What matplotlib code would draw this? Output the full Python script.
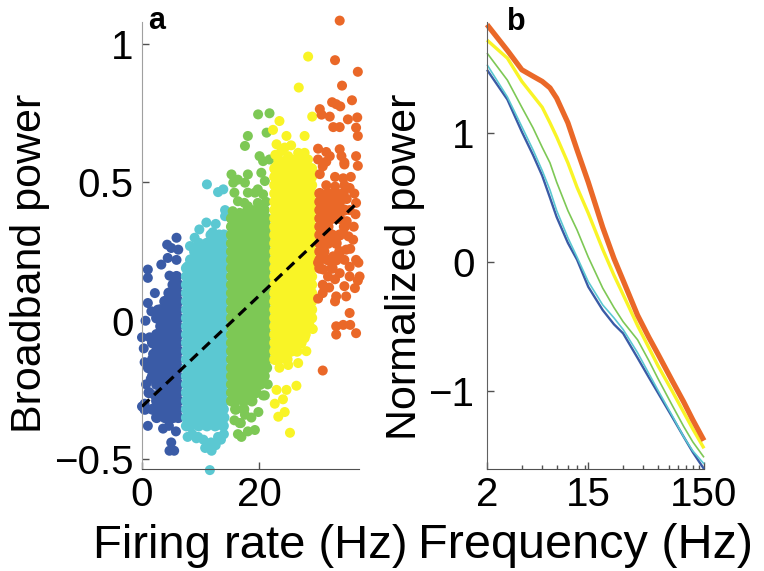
import matplotlib
matplotlib.use("Agg")
import matplotlib.pyplot as plt
from matplotlib.ticker import FixedLocator, NullFormatter

plt.rcParams['font.family'] = ['Liberation Sans', 'DejaVu Sans']

# ---- panel a: firing rate vs broadband power, one colour per rate bin ----
# dense parts are given as rows (y, [x values]), sparse points as (x, y)
blue_rows = [
    (0.16, [5.9]),
    (0.13, [5.3, 6.2]),
    (0.10, [4.6, 6.0]),
    (0.07, [3.9, 5.3, 6.2]),
    (0.04, [3.2, 4.6, 6.0]),
    (0.01, [2.5, 3.9, 5.3, 6.2]),
    (-0.02, [3.2, 4.6, 6.0]),
    (-0.05, [2.5, 3.9, 5.3, 6.2]),
    (-0.08, [1.8, 3.2, 4.6, 6.0]),
    (-0.11, [2.5, 3.9, 5.3, 6.2]),
    (-0.14, [1.8, 3.2, 4.6, 6.0]),
    (-0.17, [1.1, 2.5, 3.9, 5.3, 6.2]),
    (-0.20, [1.8, 3.2, 4.6, 6.0]),
    (-0.23, [2.5, 3.9, 5.3, 6.2]),
    (-0.26, [1.2, 3.2, 4.6, 6.0]),
    (-0.29, [2.5, 3.9, 5.3, 6.2]),
    (-0.32, [0.5, 1.8, 3.2, 4.6, 6.0]),
    (-0.35, [2.5, 3.9, 5.3, 6.2]),
]
blue_pts = [
    (5.9, 0.30), (4.3, 0.275), (5.0, 0.263), (6.2, 0.257), (4.4, 0.227),
    (5.9, 0.22), (3.3, 0.203), (1.0, 0.185), (1.0, 0.155), (4.7, 0.163),
    (2.2, 0.10), (5.0, 0.088), (1.0, 0.064), (2.7, 0.04), (1.6, 0.034),
    (0.6, 0.0), (1.3, -0.06), (0.0, -0.06), (0.3, -0.10), (1.9, -0.12),
    (0.45, -0.15), (2.2, -0.18), (1.5, -0.21), (0.7, -0.23), (2.2, -0.27),
    (0.45, -0.30), (0.0, -0.31), (1.0, -0.38), (3.6, -0.39), (5.8, -0.40),
    (4.6, -0.38), (5.0, -0.44), (4.7, -0.47), (5.5, -0.47),
]

cyan_rows = [
    (0.31, [11.8, 13.2, 14.0]),
    (0.28, [9.7, 11.1, 12.5, 13.9]),
    (0.25, [9.0, 10.4, 11.8, 13.2, 14.0]),
    (0.22, [8.3, 9.7, 11.1, 12.5, 13.9]),
    (0.19, [7.6, 9.0, 10.4, 11.8, 13.2, 14.0]),
    (0.16, [7.6, 8.3, 9.7, 11.1, 12.5, 13.9]),
    (0.13, [7.6, 9.0, 10.4, 11.8, 13.2, 14.0]),
    (0.10, [7.6, 8.3, 9.7, 11.1, 12.5, 13.9]),
    (0.07, [7.6, 9.0, 10.4, 11.8, 13.2, 14.0]),
    (0.04, [7.6, 8.3, 9.7, 11.1, 12.5, 13.9]),
    (0.01, [7.6, 9.0, 10.4, 11.8, 13.2, 14.0]),
    (-0.02, [7.6, 8.3, 9.7, 11.1, 12.5, 13.9]),
    (-0.05, [7.6, 9.0, 10.4, 11.8, 13.2, 14.0]),
    (-0.08, [7.6, 8.3, 9.7, 11.1, 12.5, 13.9]),
    (-0.11, [7.6, 9.0, 10.4, 11.8, 13.2, 14.0]),
    (-0.14, [7.6, 8.3, 9.7, 11.1, 12.5, 13.9]),
    (-0.17, [7.6, 9.0, 10.4, 11.8, 13.2, 14.0]),
    (-0.20, [7.6, 8.3, 9.7, 11.1, 12.5, 13.9]),
    (-0.23, [7.6, 9.0, 10.4, 11.8, 13.2, 14.0]),
    (-0.26, [7.6, 8.3, 9.7, 11.1, 12.5, 13.9]),
    (-0.29, [7.6, 9.0, 10.4, 11.8, 13.2, 14.0]),
    (-0.32, [7.6, 8.3, 9.7, 11.1, 12.5, 13.9]),
    (-0.35, [7.6, 9.0, 10.4, 11.8, 13.2, 14.0]),
    (-0.38, [7.6, 8.3, 9.7, 11.1, 12.5, 13.9]),
]
cyan_pts = [
    (11.1, 0.493), (13.0, 0.465), (13.9, 0.475), (14.2, 0.40), (14.2, 0.378),
    (11.0, 0.355), (12.1, 0.32), (9.0, 0.30), (8.2, 0.27), (7.8, 0.197),
    (9.8, 0.33), (12.6, 0.35),
    (7.8, -0.42), (8.6, -0.41), (9.6, -0.42), (9.3, -0.425), (10.5, -0.43),
    (10.8, -0.46), (11.8, -0.44), (12.6, -0.45), (13.0, -0.42), (13.5, -0.43),
    (14.0, -0.41), (11.9, -0.47), (11.6, -0.54),
]

green_rows = [
    (0.40, [18.1, 19.5, 20.9]),
    (0.37, [15.3, 16.0, 17.4, 18.8, 20.2, 21.3]),
    (0.34, [15.3, 16.7, 18.1, 19.5, 20.9, 21.3]),
    (0.31, [15.3, 16.0, 17.4, 18.8, 20.2, 21.3]),
    (0.28, [15.3, 16.7, 18.1, 19.5, 20.9, 21.3]),
    (0.25, [15.3, 16.0, 17.4, 18.8, 20.2, 21.3]),
    (0.22, [15.3, 16.7, 18.1, 19.5, 20.9, 21.3]),
    (0.19, [15.3, 16.0, 17.4, 18.8, 20.2, 21.3]),
    (0.16, [15.3, 16.7, 18.1, 19.5, 20.9, 21.3]),
    (0.13, [15.3, 16.0, 17.4, 18.8, 20.2, 21.3]),
    (0.10, [15.3, 16.7, 18.1, 19.5, 20.9, 21.3]),
    (0.07, [15.3, 16.0, 17.4, 18.8, 20.2, 21.3]),
    (0.04, [15.3, 16.7, 18.1, 19.5, 20.9, 21.3]),
    (0.01, [15.3, 16.0, 17.4, 18.8, 20.2, 21.3]),
    (-0.02, [15.3, 16.7, 18.1, 19.5, 20.9, 21.3]),
    (-0.05, [15.3, 16.0, 17.4, 18.8, 20.2, 21.3]),
    (-0.08, [15.3, 16.7, 18.1, 19.5, 20.9, 21.3]),
    (-0.11, [15.3, 16.0, 17.4, 18.8, 20.2, 21.3]),
    (-0.14, [15.3, 16.7, 18.1, 19.5, 20.9, 21.3]),
    (-0.17, [15.3, 16.0, 17.4, 18.8, 20.2, 21.3]),
    (-0.20, [15.3, 16.7, 18.1, 19.5, 20.9]),
    (-0.23, [15.3, 16.0, 17.4, 18.8, 20.2]),
    (-0.26, [15.3, 16.7, 18.1, 19.5]),
    (-0.29, [15.3, 16.0, 17.4, 18.8]),
    (-0.32, [16.0, 17.4]),
]
green_pts = [
    (19.85, 0.746), (21.8, 0.75), (18.1, 0.668), (21.3, 0.68), (17.6, 0.632),
    (20.1, 0.595), (21.8, 0.583), (20.7, 0.577), (15.3, 0.529), (16.4, 0.51),
    (18.1, 0.529), (15.6, 0.499), (17.6, 0.499), (20.4, 0.535), (21.0, 0.505),
    (19.8, 0.475), (15.8, 0.463), (18.1, 0.463), (16.4, 0.432), (17.5, 0.426),
    (15.5, 0.396), (16.7, 0.39), (18.4, 0.402), (19.3, 0.463), (20.7, 0.457),
    (18.1, 0.414), (19.8, 0.426), (21.2, 0.43),
    (21.5, -0.23), (21.0, -0.27), (20.7, -0.27), (19.9, -0.33), (18.7, -0.35),
    (15.8, -0.36), (17.6, -0.34), (16.9, -0.37), (16.7, -0.37), (19.3, -0.395),
    (18.1, -0.40), (16.4, -0.41), (17.0, -0.42),
]

yellow_rows = [
    (0.58, [23.4, 24.8, 26.2, 27.6]),
    (0.55, [22.7, 24.1, 25.5, 26.9, 28.3, 29.0]),
    (0.52, [22.7, 23.4, 24.8, 26.2, 27.6, 29.0]),
    (0.49, [22.7, 24.1, 25.5, 26.9, 28.3, 29.0]),
    (0.46, [22.7, 23.4, 24.8, 26.2, 27.6, 29.0]),
    (0.43, [22.7, 24.1, 25.5, 26.9, 28.3, 29.0]),
    (0.40, [22.7, 23.4, 24.8, 26.2, 27.6, 29.0]),
    (0.37, [22.7, 24.1, 25.5, 26.9, 28.3, 29.0]),
    (0.34, [22.7, 23.4, 24.8, 26.2, 27.6, 29.0]),
    (0.31, [22.7, 24.1, 25.5, 26.9, 28.3, 29.0]),
    (0.28, [22.7, 23.4, 24.8, 26.2, 27.6, 29.0]),
    (0.25, [22.7, 24.1, 25.5, 26.9, 28.3, 29.0]),
    (0.22, [22.7, 23.4, 24.8, 26.2, 27.6, 29.0]),
    (0.19, [22.7, 24.1, 25.5, 26.9, 28.3, 29.0]),
    (0.16, [22.7, 23.4, 24.8, 26.2, 27.6, 29.0]),
    (0.13, [22.7, 24.1, 25.5, 26.9, 28.3, 29.0]),
    (0.10, [22.7, 23.4, 24.8, 26.2, 27.6, 29.0]),
    (0.07, [22.7, 24.1, 25.5, 26.9, 28.3, 29.0]),
    (0.04, [22.7, 23.4, 24.8, 26.2, 27.6, 29.0]),
    (0.01, [22.7, 24.1, 25.5, 26.9, 28.3, 29.0]),
    (-0.02, [22.7, 23.4, 24.8, 26.2, 27.6, 28.6]),
    (-0.05, [22.7, 24.1, 25.5, 26.9, 27.9]),
    (-0.08, [22.7, 23.4, 24.8, 26.2, 27.2]),
    (-0.11, [22.7, 24.1, 25.5, 26.5]),
    (-0.14, [22.7, 23.4, 24.8]),
]
yellow_pts = [
    (28.4, 0.955), (26.8, 0.843), (29.1, 0.738), (23.5, 0.722), (22.4, 0.69),
    (24.7, 0.668), (27.8, 0.668), (23.0, 0.638), (24.4, 0.626), (25.5, 0.634),
    (26.7, 0.607), (27.8, 0.607), (25.0, 0.595), (26.1, 0.583), (27.5, 0.571),
    (28.4, 0.583), (23.0, 0.559), (23.8, 0.613), (22.8, 0.60),
    (29.2, -0.03), (27.8, -0.063), (28.1, -0.11), (26.7, -0.153), (25.0, -0.16),
    (23.5, -0.17), (23.0, -0.25), (24.7, -0.25), (26.4, -0.235), (24.1, -0.284),
    (22.7, -0.30), (24.4, -0.33), (23.3, -0.347), (25.3, -0.405),
]

orange_rows = [
    (0.46, [30.4, 31.8, 33.2, 34.4]),
    (0.43, [30.4, 31.1, 32.5, 33.8]),
    (0.40, [30.4, 31.8, 33.2, 34.6]),
    (0.37, [30.4, 31.1, 32.5, 33.8]),
    (0.34, [30.4, 31.8, 34.6]),
    (0.31, [30.4, 31.1, 32.5, 33.8]),
    (0.28, [30.4, 31.8, 33.2]),
    (0.25, [30.4, 31.1, 33.8]),
    (0.22, [30.4, 31.8, 33.2]),
    (0.19, [30.4, 32.5]),
]
orange_pts = [
    (33.8, 1.085), (33.0, 0.942), (36.9, 0.90), (34.2, 0.85), (35.9, 0.797),
    (32.5, 0.79), (33.2, 0.783), (33.9, 0.775), (30.4, 0.765), (30.7, 0.745),
    (32.1, 0.738), (35.2, 0.728), (36.8, 0.735), (32.7, 0.70), (33.8, 0.70),
    (36.6, 0.698), (36.9, 0.668), (30.1, 0.622), (31.5, 0.61), (32.1, 0.595),
    (33.8, 0.62), (34.1, 0.595), (34.6, 0.572), (36.6, 0.595), (30.1, 0.583),
    (30.9, 0.558), (31.5, 0.575), (34.6, 0.565), (36.9, 0.56), (33.0, 0.52),
    (34.4, 0.515), (35.7, 0.52), (30.4, 0.53), (31.5, 0.49), (33.0, 0.485),
    (34.6, 0.49), (35.5, 0.48), (36.3, 0.46), (35.0, 0.44), (36.6, 0.426),
    (35.5, 0.40), (36.5, 0.385), (35.0, 0.36), (36.2, 0.34), (34.4, 0.317),
    (36.1, 0.293), (35.3, 0.305), (34.9, 0.257), (32.7, 0.233), (36.6, 0.22),
    (35.6, 0.26), (37.0, 0.21), (35.5, 0.195), (34.6, 0.22), (37.2, 0.16),
    (35.5, 0.16), (33.8, 0.172), (30.1, 0.21), (31.0, 0.185), (31.8, 0.16),
    (33.0, 0.15), (36.9, 0.145), (30.9, 0.13), (32.0, 0.12), (34.6, 0.125),
    (30.9, 0.10), (33.2, 0.088), (34.9, 0.088), (36.4, 0.118), (30.1, 0.08),
    (33.0, 0.07), (35.5, 0.028), (33.2, -0.02), (34.4, -0.015), (35.6, -0.015),
    (36.6, -0.045), (33.2, -0.05), (30.9, -0.18),
]

fit_x = [0, 37]
fit_y = [-0.31, 0.43]

# ---- panel b: normalized spectra per rate bin ----
freq = [2, 3, 4, 5, 6, 7, 8, 10, 12, 15, 20, 25, 30, 40, 50, 60, 80, 100, 120, 150]
spec_orange = [1.84, 1.64, 1.49, 1.44, 1.40, 1.35, 1.27, 1.08, 0.87, 0.62, 0.27, 0.03,
               -0.14, -0.41, -0.58, -0.71, -0.92, -1.08, -1.22, -1.38]
spec_yellow = [1.72, 1.58, 1.40, 1.29, 1.20, 1.08, 0.97, 0.77, 0.58, 0.38, 0.10, -0.10,
               -0.25, -0.49, -0.66, -0.80, -1.00, -1.16, -1.29, -1.44]
spec_green = [1.62, 1.41, 1.20, 1.04, 0.89, 0.77, 0.62, 0.40, 0.25, 0.04, -0.20, -0.35,
              -0.46, -0.60, -0.76, -0.90, -1.11, -1.27, -1.39, -1.51]
spec_cyan = [1.53, 1.28, 1.05, 0.87, 0.71, 0.56, 0.40, 0.19, 0.04, -0.15, -0.33, -0.43,
             -0.52, -0.70, -0.86, -0.99, -1.19, -1.35, -1.46, -1.56]
spec_blue = [1.49, 1.26, 1.01, 0.83, 0.67, 0.50, 0.35, 0.15, 0.02, -0.19, -0.37, -0.48,
             -0.55, -0.74, -0.89, -1.01, -1.20, -1.35, -1.47, -1.60]

col_blue = '#3a5ba6'
col_cyan = '#5bc8d2'
col_green = '#7dc855'
col_yellow = '#f9f426'
col_orange = '#ea6828'


def expand(rows):
    xs, ys = [], []
    for y, row in rows:
        xs += row
        ys += [y] * len(row)
    return xs, ys


fig = plt.figure(figsize=(7.64, 5.71), dpi=100)
ax1 = fig.add_axes([142 / 764, 1 - 469 / 571, 217 / 764, 447 / 571])
ax2 = fig.add_axes([487 / 764, 1 - 469 / 571, 217 / 764, 447 / 571])

groups = [(blue_rows, blue_pts, col_blue), (cyan_rows, cyan_pts, col_cyan),
          (green_rows, green_pts, col_green), (yellow_rows, yellow_pts, col_yellow),
          (orange_rows, orange_pts, col_orange)]
for rows, pts, col in groups:
    xs, ys = expand(rows)
    # dense core: slightly larger dots so the cloud reads as solid
    ax1.scatter(xs, ys, s=64, c=col, edgecolors='none', clip_on=False, zorder=2)
    ax1.scatter([p[0] for p in pts], [p[1] for p in pts], s=52, c=col,
                edgecolors='none', clip_on=False, zorder=2)

ax1.plot(fit_x, fit_y, color='black', lw=2.3, ls=(0, (3.2, 2.0)), zorder=3)

ax1.set_xlim(0, 37.1)
ax1.set_ylim(-0.536, 1.08)
ax1.set_xticks([0, 20])
ax1.set_xticklabels(['0', '20'])
ax1.set_yticks([-0.5, 0, 0.5, 1])
ax1.set_yticklabels(['\u22120.5', '0', '0.5', '1'])

lines = [(spec_blue, col_blue, 1.7), (spec_cyan, col_cyan, 1.2), (spec_green, col_green, 1.2),
         (spec_yellow, col_yellow, 2.4), (spec_orange, col_orange, 3.8)]
for vals, col, lw in lines:
    ax2.plot(freq, vals, color=col, lw=lw, solid_capstyle='butt', clip_on=False)

ax2.set_xscale('log')
ax2.set_xlim(2, 150)
ax2.set_ylim(-1.6, 1.86)
ax2.set_xticks([2, 15, 150])
ax2.set_xticklabels(['2', '15', '150'])
ax2.xaxis.set_minor_locator(FixedLocator([4, 6, 8, 10, 12, 14, 30, 45, 60, 75, 90, 105, 120, 135]))
ax2.xaxis.set_minor_formatter(NullFormatter())
ax2.set_yticks([-1, 0, 1])
ax2.set_yticklabels(['\u22121', '0', '1'])

for ax, lcol in [(ax1, '#a0a0a0'), (ax2, '#606060')]:
    ax.spines['top'].set_visible(False)
    ax.spines['right'].set_visible(False)
    ax.spines['left'].set_color(lcol)
    ax.spines['bottom'].set_color('#505050')
    ax.tick_params(which='both', direction='in', length=5, width=1, colors='#505050',
                   labelcolor='black', labelsize=29)
    ax.tick_params(axis='x', pad=5)
ax1.tick_params(axis='y', pad=6)
ax2.tick_params(axis='y', pad=9)
ax2.tick_params(which='minor', length=3)

fig.text(30 / 764, 1 - 263 / 571, 'Broadband power', rotation=90, fontsize=31,
         ha='center', va='center')
fig.text(405 / 764, 1 - 267 / 571, 'Normalized power', rotation=90, fontsize=31,
         ha='center', va='center')
fig.text(250 / 764, 1 - 558 / 571, 'Firing rate (Hz)', fontsize=34, ha='center', va='baseline')
fig.text(586 / 764, 1 - 558 / 571, 'Frequency (Hz)', fontsize=35, ha='center', va='baseline')

fig.text(148 / 764, 1 - 29 / 571, 'a', fontsize=22, fontweight='bold', ha='left', va='baseline')
fig.text(507 / 764, 1 - 30 / 571, 'b', fontsize=22, fontweight='bold', ha='left', va='baseline')

fig.savefig('out.png', dpi=100)
